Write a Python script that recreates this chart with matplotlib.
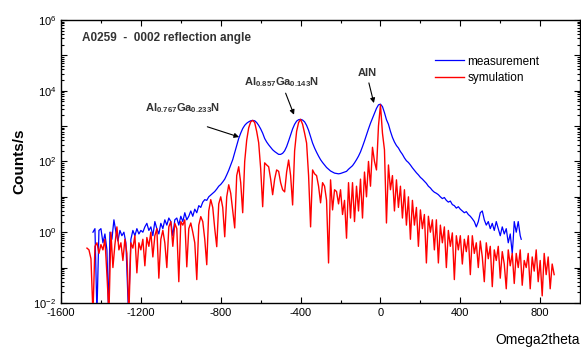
import numpy as np
import matplotlib
matplotlib.use('Agg')
import matplotlib.pyplot as plt
from matplotlib.ticker import LogLocator, FuncFormatter, MultipleLocator, NullFormatter

plt.rcParams['font.family'] = ['Liberation Sans', 'DejaVu Sans']
plt.rcParams['mathtext.default'] = 'regular'
plt.rcParams['axes.unicode_minus'] = False

meas_x = [-1440, -1430, -1420, -1410, -1400, -1390, -1380, -1370, -1362, -1355,
          -1345, -1335, -1325, -1315, -1305, -1295, -1285, -1275, -1262, -1250,
          -1240, -1230, -1220, -1210, -1200, -1190, -1180, -1170, -1160, -1150,
          -1140, -1130, -1120, -1110, -1100, -1090, -1080, -1070, -1060, -1050,
          -1040, -1030, -1020, -1010, -1000, -990, -980, -970, -960, -950,
          -940, -930, -920, -910, -900, -890, -880, -870, -860, -850,
          -840, -830, -820, -810, -800, -790, -780, -770, -760, -750,
          -740, -730, -720, -710, -700, -690, -680, -670, -660, -650,
          -640, -630, -620, -610, -600, -590, -580, -570, -560, -550,
          -540, -530, -520, -510, -500, -490, -480, -470, -460, -450,
          -440, -430, -420, -410, -400, -390, -380, -370, -360, -350,
          -340, -330, -320, -310, -300, -290, -280, -270, -260, -250,
          -240, -230, -220, -210, -200, -190, -180, -170, -160, -150,
          -140, -130, -120, -110, -100, -90, -80, -70, -60, -50,
          -40, -30, -20, -10, 0, 10, 20, 30, 40, 50,
          60, 70, 80, 90, 100, 110, 120, 130, 140, 150,
          160, 170, 180, 190, 200, 210, 220, 230, 240, 250,
          260, 270, 280, 290, 300, 310, 320, 330, 340, 350,
          360, 370, 380, 390, 400, 410, 420, 430, 440, 450,
          460, 470, 480, 490, 500, 510, 520, 530, 540, 550,
          560, 570, 580, 590, 600, 610, 620, 630, 640, 650,
          660, 665, 670, 680, 690, 700, 705]
meas_log = [0.0, 0.1, -2.3, 0.05, 0.1, -0.3, -0.05, -0.5, -2.3, 0.0,
            -0.2, 0.35, 0.0, -0.25, 0.05, -0.1, 0.0, -0.3, -2.3, -0.2,
            0.05, -0.1, 0.1, -0.05, 0.05, 0.0, 0.15, 0.25, 0.05, 0.15,
            -0.1, 0.3, 0.1, -0.05, 0.25, 0.1, 0.35, 0.2, 0.4, 0.3,
            -0.1, 0.35, 0.4, 0.2, 0.45, 0.3, 0.55, 0.35, 0.45, 0.6,
            0.45, 0.65, 0.55, 0.75, 0.7, 0.85, 0.92, 0.9, 1.0, 1.05,
            1.1, 1.15, 1.22, 1.3, 1.35, 1.42, 1.5, 1.62, 1.75, 1.9,
            2.05, 2.25, 2.45, 2.65, 2.8, 2.93, 3.02, 3.08, 3.12, 3.15,
            3.16, 3.15, 3.1, 3.02, 2.92, 2.8, 2.65, 2.55, 2.47, 2.4,
            2.33, 2.28, 2.24, 2.2, 2.2, 2.23, 2.3, 2.42, 2.58, 2.75,
            2.92, 3.05, 3.14, 3.18, 3.19, 3.17, 3.12, 3.02, 2.88, 2.7,
            2.52, 2.38, 2.26, 2.15, 2.05, 1.97, 1.9, 1.83, 1.78, 1.73,
            1.7, 1.67, 1.66, 1.65, 1.66, 1.68, 1.7, 1.72, 1.78, 1.83,
            1.88, 1.96, 2.05, 2.15, 2.27, 2.42, 2.58, 2.75, 2.92, 3.08,
            3.22, 3.36, 3.5, 3.6, 3.62, 3.55, 3.38, 3.18, 3.05, 2.85,
            2.68, 2.55, 2.45, 2.38, 2.28, 2.2, 2.1, 2.02, 1.97, 1.9,
            1.82, 1.75, 1.68, 1.62, 1.55, 1.5, 1.44, 1.38, 1.3, 1.25,
            1.18, 1.13, 1.1, 1.06, 1.0, 0.95, 0.98, 0.9, 0.85, 0.88,
            0.78, 0.75, 0.68, 0.72, 0.65, 0.6, 0.55, 0.58, 0.5, 0.45,
            0.38, 0.3, 0.15, 0.3, 0.55, 0.6, 0.35, 0.2, 0.3, 0.1,
            0.25, 0.05, 0.3, 0.1, -0.1, 0.15, -0.05, 0.1, -0.3, -0.05,
            -0.6, -0.2, 0.3, 0.0, 0.3, -0.1, -0.2]

# simulation (red): log10(counts/s), one value every 10 units from -1470 to 870
sim_x = list(range(-1470, 880, 10))
sim_log = [-0.45, -0.5, -0.75, -2.3, -0.4, -0.3, -0.6, -0.35, -0.5, -0.2,
           -1.2, -2.3, 0.0, -1.0, -0.35, 0.15, -0.5, -0.3, -0.8, -0.2,
           -0.6, -2.3, -0.3, -0.45, -0.1, -1.15, -0.3, -0.5, -0.2, -0.95,
           -0.15, -0.4, 0.0, -0.7, -0.1, 0.1, -1.3, -0.2, 0.05, -0.3,
           -1.0, 0.15, 0.3, -0.4, 0.25, 0.1, -1.4, 0.3,
           0.2, 0.35, -0.98, 0.1, 0.26, 0.0, -0.3, -1.34, 0.2, 0.44,
           0.3, -0.2, -0.92, 0.6, 0.92, 0.7, 0.1, -0.41, 0.8, 1.0,
           0.7, -0.13, 1.0, 1.34, 1.1, 0.6, 0.12, 1.6, 1.85, 1.4,
           0.55, 2.0, 2.6, 2.95, 3.12, 3.16, 3.1, 2.85, 2.53, 1.8,
           0.72, 1.96, 1.9, 1.85, 1.5, 1.06, 1.5, 1.76, 1.72, 1.4,
           1.2, 1.14, 1.7, 2.04, 1.6, 0.77, 2.3, 2.85, 3.1, 3.19,
           3.05, 2.8, 2.52, 1.6, 0.15, 1.76, 1.65, 1.6, 1.3, 0.83,
           1.4, 1.3, 0.9, -0.87, 1.48, 0.63, 1.2, 1.15, 0.8, 1.2,
           0.5, 0.9, -0.17, 1.4, 0.4, 1.4, 0.3, 1.3, 0.6, 1.5,
           0.4, 1.7, 1.0, 2.0, 1.3, 2.4, 2.0, 1.76, 3.0,
           3.6, 2.8, 2.33, 0.26, 1.9, 1.2, 1.6, 0.6, 1.48, 0.7,
           1.3, 0.4, 1.2, 0.2, 1.0, -0.2, 0.9, 0.2, 0.7, -0.4,
           0.63, 0.1, 0.5, -0.87, 0.45, 0.0, 0.35, -0.5, 0.35, -0.87,
           0.2, -0.3, 0.15, -1.0, 0.05, -0.4, -0.02, -1.34, -0.1, -0.5,
           -0.1, -0.9, -0.2, -0.55, -0.1, -1.2, -0.1, -0.6, -0.3, -1.0,
           -0.25, -0.7, -1.4, -0.3, -0.75, -0.4, -1.54, -0.5, -0.8, -0.4,
           -1.3, -0.55, -0.9, -1.6, -0.5, -0.95, -0.6, -1.45, -0.6, -1.0,
           -0.5, -1.5, -0.8, -1.0, -0.6, -1.6, -0.7, -1.1, -0.5, -1.4,
           -0.8, -1.8, -0.6, -1.2, -0.7, -1.6, -0.9, -1.2]

meas_y = 10.0 ** np.array(meas_log)
sim_y = 10.0 ** np.array(sim_log)

fig = plt.figure(figsize=(5.81, 3.47), dpi=100)
ax = fig.add_axes([0.105, 0.127, 0.8935, 0.8155])

ax.plot(meas_x, meas_y, color='#0000ff', lw=0.9, label='measurement', zorder=2)
ax.plot(sim_x, sim_y, color='#ff0000', lw=1.0, label='symulation', zorder=3)

ax.set_yscale('log')
ax.set_xlim(-1600, 1000)
ax.set_ylim(1e-2, 1e6)

ax.xaxis.set_major_locator(MultipleLocator(400))
ax.xaxis.set_minor_locator(MultipleLocator(200))
ax.yaxis.set_major_locator(LogLocator(base=10, numticks=20))
ax.yaxis.set_minor_locator(LogLocator(base=10, subs=np.arange(2, 10), numticks=20))
ax.yaxis.set_minor_formatter(NullFormatter())


def ylab(v, pos):
    e = int(round(np.log10(v)))
    if e % 2 == 0:
        return r'$10^{%d}$' % e
    return ''


ax.yaxis.set_major_formatter(FuncFormatter(ylab))
ax.tick_params(which='both', direction='in', top=True, right=True, labelsize=8, width=0.8)
ax.tick_params(which='major', length=4)
ax.tick_params(which='minor', length=2)
for s in ax.spines.values():
    s.set_linewidth(1.0)

ax.set_ylabel('Counts/s', fontsize=11, fontweight='bold', labelpad=5)
ax.set_xlabel('Omega2theta', fontsize=10, loc='right', labelpad=11)

ax.text(0.04, 0.937, 'A0259  -  0002 reflection angle', transform=ax.transAxes,
        fontsize=8.5, fontweight='bold', color='#333333', va='center', ha='left')

arrow = dict(arrowstyle='-|>', color='black', lw=0.8, mutation_scale=7, shrinkA=0, shrinkB=0)
ax.annotate('', xy=(-708, 10**2.69), xytext=(-867, 10**2.98), arrowprops=arrow)
ax.annotate('', xy=(-433, 10**3.32), xytext=(-475, 10**3.93), arrowprops=arrow)
ax.annotate('', xy=(-33, 10**3.65), xytext=(-58, 10**4.22), arrowprops=arrow)

ax.text(-991, 10**3.51, r'Al$_{0.767}$Ga$_{0.233}$N', fontsize=8, fontweight='bold',
        color='#333333', ha='center', va='center')
ax.text(-496, 10**4.23, r'Al$_{0.857}$Ga$_{0.143}$N', fontsize=8, fontweight='bold',
        color='#333333', ha='center', va='center')
ax.text(-68, 10**4.51, 'AlN', fontsize=8, fontweight='bold',
        color='#333333', ha='center', va='center')

ax.legend(loc='upper left', bbox_to_anchor=(0.72, 0.874), frameon=False, fontsize=8.5,
          borderpad=0, borderaxespad=0, handlelength=2.5, handletextpad=0.25,
          labelspacing=0.4)

fig.savefig('out.png', dpi=100)
